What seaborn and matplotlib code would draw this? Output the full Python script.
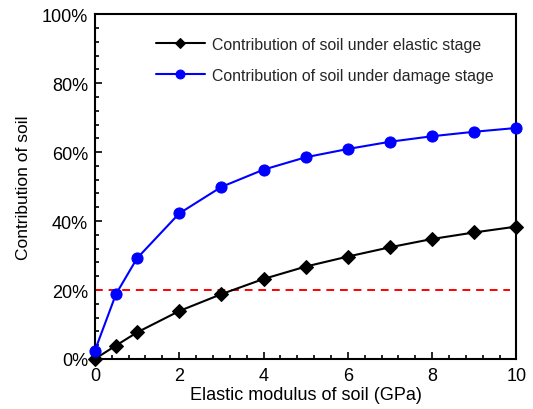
import matplotlib
matplotlib.use("Agg")
import matplotlib.pyplot as plt
import seaborn as sns
import pandas as pd
from matplotlib.ticker import MultipleLocator, FuncFormatter

# Data
modulus = [0, 0.5, 1, 2, 3, 4, 5, 6, 7, 8, 9, 10]
elastic = [0.0, 3.9, 7.7, 13.9, 18.8, 23.2, 26.8, 29.7, 32.4, 34.8, 36.7, 38.4]
damage = [2.4, 18.8, 29.2, 42.2, 49.9, 54.9, 58.5, 60.9, 63.0, 64.6, 65.9, 67.0]
threshold = 20
label_elastic = "Contribution of soil under elastic stage"
label_damage = "Contribution of soil under damage stage"
xlabel = "Elastic modulus of soil (GPa)"
ylabel = "Contribution of soil"

sns.set_style("ticks")
plt.rcParams['font.family'] = ['Liberation Sans', 'DejaVu Sans']

fig = plt.figure(figsize=(5.33, 4.10), dpi=100)
ax = fig.add_axes([0.178, 0.122, 0.791, 0.841])

df = pd.DataFrame({"x": modulus, "elastic": elastic, "damage": damage})

sns.lineplot(data=df, x="x", y="elastic", ax=ax, color="black", marker="D",
             markersize=7, markeredgecolor="black", linewidth=1.5, label=label_elastic,
             clip_on=False, zorder=3)
sns.lineplot(data=df, x="x", y="damage", ax=ax, color="#0000FF", marker="o",
             markersize=8, markeredgecolor="#0000FF", linewidth=1.5, label=label_damage,
             clip_on=False, zorder=4)
ax.axhline(threshold, xmin=0, xmax=0.985, color="red", linestyle=(0, (4, 3)), linewidth=1.4, zorder=1)

ax.set_xlim(0, 10)
ax.set_ylim(0, 100)
ax.xaxis.set_major_locator(MultipleLocator(2))
ax.xaxis.set_minor_locator(MultipleLocator(0.4))
ax.yaxis.set_major_locator(MultipleLocator(20))
ax.yaxis.set_minor_locator(MultipleLocator(4))
ax.yaxis.set_major_formatter(FuncFormatter(lambda v, p: f"{int(round(v))}%"))

ax.tick_params(which="both", direction="in", color="black", labelcolor="black", labelsize=13, width=1.2)
ax.tick_params(which="major", length=5, pad=5)
ax.tick_params(which="minor", length=3)
ax.tick_params(axis="x", which="major", pad=6)
for s in ax.spines.values():
    s.set_visible(True)
    s.set_linewidth(1.5)
    s.set_color("black")

ax.set_xlabel(xlabel, fontsize=13, labelpad=1, color="black")
ax.set_ylabel(ylabel, fontsize=12.5, labelpad=8, color="black")

leg = ax.legend(loc="upper left", bbox_to_anchor=(0.11, 0.975), frameon=False,
                fontsize=11.4, handlelength=3.1, labelspacing=1.0, handletextpad=0.45,
                markerscale=0.8)

fig.savefig("out.png", dpi=100)
